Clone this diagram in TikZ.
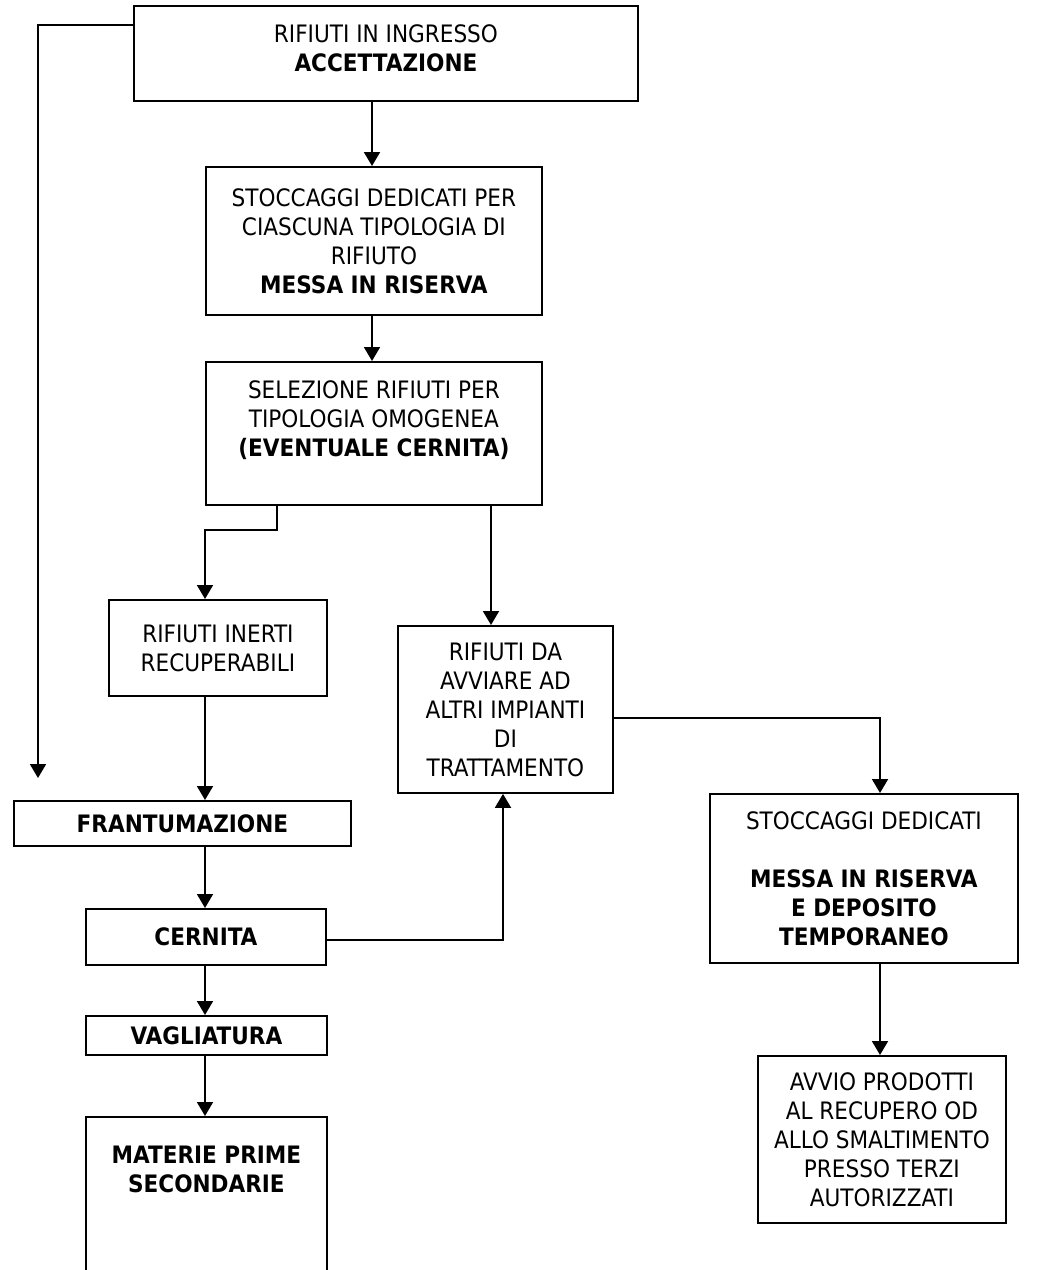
\documentclass[tikz,border=0pt]{standalone}
\usepackage{fontspec}
\setmainfont{DejaVu Sans Condensed}
\usetikzlibrary{arrows.meta}
\begin{document}
\begin{tikzpicture}[x=0.75pt, y=-0.75pt]
	\tikzstyle{Node} = [rectangle, anchor=north west, inner sep=0pt, align=center, draw=black, line width=1.4pt, font=\fontsize{18}{21.75}\selectfont]
	\tikzstyle{arrow} = [line width=1.4pt, -{Triangle[length=10.5pt, width=12pt]}]
	\useasboundingbox (0,0) rectangle (1045,1270);

	% vertical lines of the connectors
	\coordinate (trunk) at (205,0);
	\coordinate (mid) at (372,0);
	\coordinate (right) at (880,0);
	\coordinate (fb) at (38,778);

	\node (acc) [Node, minimum width=378pt, minimum height=71.25pt] at (133,5) {RIFIUTI IN INGRESSO\\\textbf{ACCETTAZIONE}\\[-13pt]~};
	\node (stock) [Node, minimum width=252pt, minimum height=111pt] at (205,166) {STOCCAGGI DEDICATI PER\\CIASCUNA TIPOLOGIA DI\\RIFIUTO\\\textbf{MESSA IN RISERVA}};
	\node (sel) [Node, minimum width=252pt, minimum height=107.25pt] at (205,361) {SELEZIONE RIFIUTI PER\\TIPOLOGIA OMOGENEA\\\textbf{(EVENTUALE CERNITA)}\\~};
	\node (inerti) [Node, minimum width=163.5pt, minimum height=72pt] at (108,599) {RIFIUTI INERTI\\RECUPERABILI};
	\node (avv) [Node, minimum width=161.25pt, minimum height=125.25pt] at (397,625) {RIFIUTI DA\\AVVIARE AD\\ALTRI IMPIANTI\\DI\\TRATTAMENTO};
	\node (frant) [Node, minimum width=252.75pt, minimum height=33.75pt] at (13,800) {\textbf{FRANTUMAZIONE}};
	\node (dep) [Node, minimum width=231pt, minimum height=126.75pt] at (709,793) {STOCCAGGI DEDICATI\\~\\\textbf{MESSA IN RISERVA}\\\textbf{E DEPOSITO}\\\textbf{TEMPORANEO}};
	\node (cern) [Node, minimum width=180pt, minimum height=42pt] at (85,908) {\textbf{CERNITA}};
	\node (vagl) [Node, minimum width=180.75pt, minimum height=29.25pt] at (85,1015) {\textbf{VAGLIATURA}};
	\node (mps) [Node, minimum width=180.75pt, minimum height=144pt] at (85,1116) {\textbf{MATERIE PRIME}\\\textbf{SECONDARIE}\\~\\~\\~};
	\node (avvio) [Node, minimum width=186pt, minimum height=125.25pt] at (757,1055) {AVVIO PRODOTTI\\AL RECUPERO OD\\ALLO SMALTIMENTO\\PRESSO TERZI\\AUTORIZZATI};

	\draw [arrow] (acc.south -| mid) -- (stock.north -| mid);
	\draw [arrow] (stock.south -| mid) -- (sel.north -| mid);
	\draw [arrow] (acc.west |- 0,25) -| (fb);
	\draw [arrow] (sel.south -| 277,0) -- (277,530) -| (inerti.north -| trunk);
	\draw [arrow] (sel.south -| 491,0) -- (avv.north -| 491,0);
	\draw [arrow] (inerti.south -| trunk) -- (frant.north -| trunk);
	\draw [arrow] (avv.east |- 0,718) -| (dep.north -| right);
	\draw [arrow] (frant.south -| trunk) -- (cern.north -| trunk);
	\draw [arrow] (cern.east |- 0,940) -| (avv.south -| 503,0);
	\draw [arrow] (cern.south -| trunk) -- (vagl.north -| trunk);
	\draw [arrow] (vagl.south -| trunk) -- (mps.north -| trunk);
	\draw [arrow] (dep.south -| right) -- (avvio.north -| right);
\end{tikzpicture}
\end{document}
